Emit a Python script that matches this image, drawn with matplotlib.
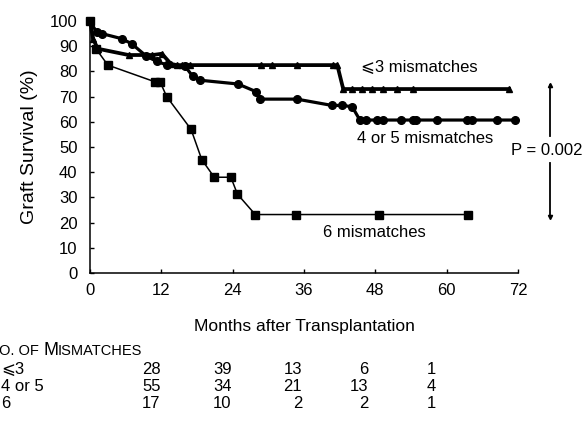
import matplotlib

matplotlib.use("Agg")
import matplotlib.pyplot as plt  # noqa: E402
import matplotlib.transforms as mtransforms  # noqa: E402

plt.rcParams["font.family"] = ["Liberation Sans", "DejaVu Sans"]

# Kaplan-Meier style survival points, months vs % graft survival
months_le3 = [0, 0.5, 1.3, 6.5, 10.5, 12.1, 13.6, 14.6, 15.5, 16.8, 28.8, 30.7,
              34.8, 40.8, 41.6, 42.6, 44.1, 45.8, 47.4, 49.3, 51.6, 54.3, 70.5]
surv_le3 = [100, 93, 89, 86.5, 86.5, 87, 83, 82.5, 82.5, 82.5, 82.5, 82.5,
            82.5, 82.5, 82.5, 73, 73, 73, 73, 73, 73, 73, 73]

months_45 = [0, 1.1, 2.0, 5.3, 7.0, 9.5, 11.2, 13.0, 16.0, 17.3, 18.5, 24.9,
             27.9, 28.6, 34.8, 40.7, 42.4, 44.1, 45.4, 46.5, 48.2, 49.3, 52.4,
             54.4, 54.9, 58.3, 63.4, 64.2, 68.4, 71.5]
surv_45 = [100, 95.6, 95, 93, 91, 86, 84, 82.5, 82, 78, 76.5, 75,
           72, 69, 69, 66.5, 66.5, 66, 60.7, 60.7, 60.7, 60.7, 60.7,
           60.7, 60.7, 60.7, 60.7, 60.7, 60.7, 60.7]

months_6 = [0, 1.0, 3.0, 11.0, 11.8, 12.9, 17.0, 18.8, 20.9, 23.7, 24.8, 27.8,
            34.7, 48.6, 63.6]
surv_6 = [100, 89, 82.5, 75.8, 75.8, 70, 57, 45, 38, 38, 31.3, 23.2,
          23.2, 23.2, 23.2]

x_ticks = [0, 12, 24, 36, 48, 60, 72]
y_ticks = list(range(0, 101, 10))

# patients at risk
risk_groups = ["\u2a7d3", "4 or 5", "6"]
risk_counts = [
    [28, 39, 13, 6, 1],
    [55, 34, 21, 13, 4],
    [17, 10, 2, 2, 1],
]
risk_cols = [11.9, 23.8, 35.7, 46.8, 58.2]

fig = plt.figure(figsize=(5.87, 4.23), dpi=100)
ax = fig.add_axes([90 / 587, 150 / 423, 428 / 587, 252 / 423])

ax.plot(months_le3, surv_le3, color="black", linewidth=2.7, marker="^",
        markersize=5, clip_on=False, zorder=3)
ax.plot(months_45, surv_45, color="black", linewidth=2.3, marker="o",
        markersize=5.5, clip_on=False, zorder=3)
ax.plot(months_6, surv_6, color="black", linewidth=1.1, marker="s",
        markersize=5.5, clip_on=False, zorder=3)

ax.set_xlim(0, 72)
ax.set_ylim(0, 100)
ax.set_xticks(x_ticks)
ax.set_yticks(y_ticks)
for side in ("top", "right"):
    ax.spines[side].set_visible(False)
for side in ("left", "bottom"):
    ax.spines[side].set_linewidth(1.1)
ax.tick_params(direction="in", length=3, width=1, labelsize=12)
ax.tick_params(axis="y", pad=9)
ax.tick_params(axis="x", pad=7)

ax.set_xlabel("Months after Transplantation", fontsize=12.5)
ax.xaxis.set_label_coords(0.5, (273 - 326) / 252)
ax.xaxis.label.set_va("center")
ax.set_ylabel("Graft Survival (%)", fontsize=14)
ax.yaxis.set_label_coords((30 - 90) / 428, 0.5)
ax.yaxis.label.set_va("center")

ax.text(55.4, 81.7, "\u2a7d3 mismatches", fontsize=12, ha="center", va="center")
ax.text(56.4, 53.2, "4 or 5 mismatches", fontsize=12, ha="center", va="center")
ax.text(47.8, 15.9, "6 mismatches", fontsize=12, ha="center", va="center")

# significance bar, broken around the p-value
bar_x = 77.4
ax.plot([bar_x, bar_x], [74.6, 54.5], color="black", linewidth=1.3, clip_on=False)
ax.plot([bar_x, bar_x], [43.5, 22.4], color="black", linewidth=1.3, clip_on=False)
ax.plot([bar_x], [74.6], marker="^", color="black", markersize=3, clip_on=False)
ax.plot([bar_x], [22.4], marker="v", color="black", markersize=3, clip_on=False)
ax.text(bar_x - 0.6, 48.8, "P = 0.002", fontsize=12, ha="center", va="center",
        clip_on=False)

# at-risk table under the axis
blend = mtransforms.blended_transform_factory(ax.transData, fig.transFigure)
row_y = [1 - 369 / 423, 1 - 386 / 423, 1 - 403 / 423]
for label, counts, y in zip(risk_groups, risk_counts, row_y):
    fig.text(0.002, y, label, fontsize=12, ha="left", va="center")
    for col, n in zip(risk_cols, counts):
        ax.text(col, y, str(n), transform=blend, fontsize=12, ha="right",
                va="center", clip_on=False)

# small-caps header, starting just off the left edge
renderer = fig.canvas.get_renderer()
x_px = -14.0
header_y = 1 - 355 / 423
for piece, size in (("N", 13), ("O. OF ", 10.5), ("M", 13), ("ISMATCHES", 10.5)):
    t = fig.text(x_px / 587, header_y, piece, fontsize=size, ha="left",
                 va="baseline")
    x_px = t.get_window_extent(renderer).x1

fig.savefig("out.png", dpi=100)
